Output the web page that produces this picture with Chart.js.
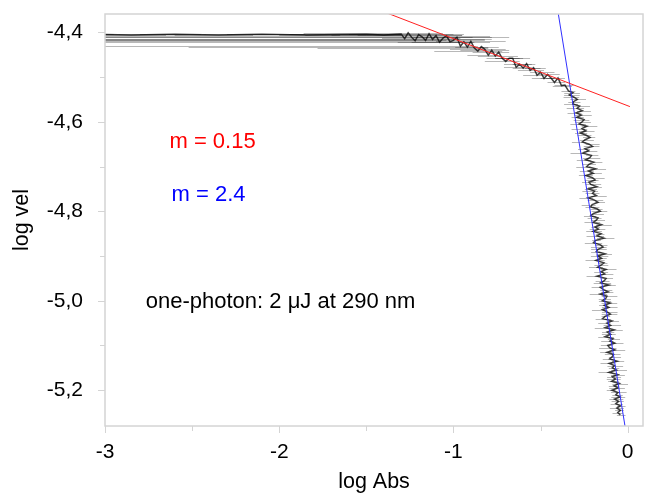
<!DOCTYPE html>
<html lang="en">
<head>
<meta charset="UTF-8" />
<title>log vel vs log Abs</title>
<script src="https://cdn.jsdelivr.net/npm/chart.js"></script>
<style>
  html, body { margin: 0; padding: 0; background: #fff; }
  #wrap { width: 645px; height: 495px; }
</style>
</head>
<body>
<div id="wrap"><canvas id="chart" width="645" height="495"></canvas></div>
<script>
// measured trace: log Abs (x), log vel (y), and the horizontal error on log Abs
const logAbs = [
  // plateau
  -3.10, -2.85, -2.60, -2.35, -2.10, -1.85, -1.65, -1.50, -1.40,
  // bend
  -1.30, -1.28, -1.26, -1.24, -1.22, -1.20, -1.18, -1.16, -1.14, -1.12,
  -1.10, -1.08, -1.06, -1.04, -1.02, -1.00, -0.98, -0.96, -0.94, -0.92,
  -0.90, -0.88, -0.86, -0.84, -0.82, -0.80, -0.78, -0.76, -0.74, -0.72,
  -0.70, -0.68, -0.66, -0.64, -0.62, -0.60, -0.58, -0.56, -0.54, -0.52,
  -0.50, -0.48, -0.46, -0.44, -0.42, -0.40, -0.38, -0.36, -0.34,
  -0.314, -0.335, -0.308, -0.289, -0.311, -0.315, -0.276, -0.290, -0.261, -0.295,
  -0.266, -0.292, -0.250, -0.261, -0.279, -0.234, -0.262, -0.240, -0.272, -0.238,
  // steep part
  -0.216, -0.244, -0.260, -0.221, -0.202, -0.245, -0.224, -0.258, -0.208, -0.217,
  -0.242, -0.195, -0.222, -0.235, -0.184, -0.225, -0.198, -0.240, -0.202, -0.187,
  -0.222, -0.212, -0.178, -0.226, -0.190, -0.202, -0.180, -0.227, -0.190, -0.170,
  -0.204, -0.212, -0.174, -0.157, -0.196, -0.211, -0.170, -0.180, -0.198, -0.151,
  -0.188, -0.168, -0.198, -0.153, -0.176, -0.136, -0.184, -0.196, -0.156, -0.141,
  -0.170, -0.180, -0.130, -0.171, -0.150, -0.182, -0.136, -0.151, -0.172, -0.124,
  -0.152, -0.132, -0.176, -0.124, -0.134, -0.155, -0.108, -0.157, -0.138, -0.112,
  -0.158, -0.119, -0.126, -0.145, -0.100, -0.134, -0.108, -0.145, -0.118, -0.099,
  -0.130, -0.144, -0.090, -0.119, -0.098, -0.129, -0.078, -0.117, -0.098, -0.129,
  -0.084, -0.102, -0.074, -0.114, -0.104, -0.074, -0.118, -0.081, -0.088, -0.103,
  -0.060, -0.106, -0.076, -0.088, -0.064, -0.107, -0.056, -0.088, -0.070, -0.092,
  -0.048, -0.078, -0.056, -0.090, -0.056, -0.068, -0.044, -0.075, -0.052, -0.068,
  -0.042, -0.062, -0.042, -0.057, -0.042
];
const logVel = [
  -4.404, -4.406, -4.404, -4.406, -4.404, -4.406, -4.405, -4.404, -4.406,
  -4.404, -4.414, -4.401, -4.411, -4.419, -4.405, -4.410, -4.418, -4.403, -4.416,
  -4.407, -4.422, -4.413, -4.408, -4.421, -4.418, -4.411, -4.431, -4.421, -4.433,
  -4.420, -4.435, -4.442, -4.432, -4.438, -4.451, -4.440, -4.453, -4.444, -4.458,
  -4.465, -4.458, -4.458, -4.478, -4.471, -4.480, -4.470, -4.485, -4.479, -4.496,
  -4.489, -4.503, -4.494, -4.502, -4.512, -4.502, -4.519, -4.518, -4.531,
  -4.535, -4.540, -4.545, -4.550, -4.555, -4.560, -4.565, -4.570, -4.575, -4.580,
  -4.585, -4.590, -4.595, -4.600, -4.605, -4.610, -4.615, -4.620, -4.625, -4.630,
  -4.635, -4.640, -4.645, -4.650, -4.655, -4.660, -4.665, -4.670, -4.675, -4.680,
  -4.685, -4.690, -4.695, -4.700, -4.705, -4.710, -4.715, -4.720, -4.725, -4.730,
  -4.735, -4.740, -4.745, -4.750, -4.755, -4.760, -4.765, -4.770, -4.775, -4.780,
  -4.785, -4.790, -4.795, -4.800, -4.805, -4.810, -4.815, -4.820, -4.825, -4.830,
  -4.835, -4.840, -4.845, -4.850, -4.855, -4.860, -4.865, -4.870, -4.875, -4.880,
  -4.885, -4.890, -4.895, -4.900, -4.905, -4.910, -4.915, -4.920, -4.925, -4.930,
  -4.935, -4.940, -4.945, -4.950, -4.955, -4.960, -4.965, -4.970, -4.975, -4.980,
  -4.985, -4.990, -4.995, -5.000, -5.005, -5.010, -5.015, -5.020, -5.025, -5.030,
  -5.035, -5.040, -5.045, -5.050, -5.055, -5.060, -5.065, -5.070, -5.075, -5.080,
  -5.085, -5.090, -5.095, -5.100, -5.105, -5.110, -5.115, -5.120, -5.125, -5.130,
  -5.135, -5.140, -5.145, -5.150, -5.155, -5.160, -5.165, -5.170, -5.175, -5.180,
  -5.185, -5.190, -5.195, -5.200, -5.205, -5.210, -5.215, -5.220, -5.225, -5.230,
  -5.235, -5.240, -5.245, -5.250, -5.255
];
const errLeft = [
  0.20, 0.15, 0.20, 0.25, 0.20, 0.15, 0.20, 0.10, 0.15,
  1.85, 1.82, 0.60, 1.86, 1.90, 0.50, 1.92, 1.95, 0.80, 1.98,
  0.40, 2.00, 0.35, 2.05, 0.30, 2.10, 0.25, 2.05, 0.30, 1.60,
  0.20, 0.90, 0.25, 0.15, 0.20, 0.12, 0.18, 0.10, 0.15, 0.09,
  0.12, 0.08, 0.10, 0.07, 0.09, 0.06, 0.08, 0.07, 0.05, 0.08,
  0.06, 0.07, 0.05, 0.06, 0.04, 0.07, 0.05, 0.06, 0.04,
  0.05, 0.03, 0.06, 0.04, 0.03, 0.05, 0.04, 0.06, 0.03, 0.05,
  0.04, 0.03, 0.06, 0.04, 0.05, 0.03, 0.06, 0.04, 0.03, 0.05,
  0.04, 0.03, 0.06, 0.02, 0.05, 0.04, 0.03, 0.07, 0.03, 0.04,
  0.05, 0.02, 0.04, 0.06, 0.03, 0.05, 0.02, 0.04, 0.03, 0.06,
  0.04, 0.03, 0.05, 0.02, 0.07, 0.04, 0.03, 0.05, 0.04, 0.02,
  0.06, 0.03, 0.04, 0.05, 0.02, 0.04, 0.06, 0.03, 0.05, 0.03,
  0.02, 0.05, 0.04, 0.03, 0.06, 0.04, 0.02, 0.05, 0.03, 0.07,
  0.04, 0.03, 0.05, 0.04, 0.02, 0.06, 0.03, 0.04, 0.05, 0.03,
  0.04, 0.02, 0.06, 0.03, 0.05, 0.04, 0.03, 0.05, 0.02, 0.04,
  0.06, 0.03, 0.04, 0.02, 0.05, 0.03, 0.04, 0.06, 0.03, 0.05,
  0.02, 0.04, 0.03, 0.05, 0.04, 0.06, 0.02, 0.03, 0.05, 0.04,
  0.03, 0.05, 0.02, 0.04, 0.06, 0.03, 0.04, 0.05, 0.02, 0.04,
  0.03, 0.05, 0.04, 0.02, 0.03, 0.06, 0.04, 0.03, 0.05, 0.02,
  0.04, 0.03, 0.05, 0.03, 0.04, 0.02, 0.05, 0.03, 0.04, 0.03,
  0.02, 0.04, 0.03, 0.03, 0.02
];
const errRight = [
  0.15, 0.20, 0.15, 0.20, 0.25, 0.20, 0.15, 0.20, 0.10,
  0.30, 0.50, 0.20, 0.35, 0.15, 0.25, 0.40, 0.12, 0.20, 0.30,
  0.15, 0.20, 0.10, 0.25, 0.12, 0.18, 0.30, 0.10, 0.15, 0.12,
  0.20, 0.08, 0.14, 0.10, 0.12, 0.07, 0.10, 0.13, 0.06, 0.10,
  0.08, 0.12, 0.06, 0.09, 0.07, 0.10, 0.05, 0.08, 0.07, 0.05,
  0.08, 0.06, 0.07, 0.05, 0.06, 0.04, 0.06, 0.05, 0.04,
  0.04, 0.06, 0.03, 0.05, 0.04, 0.03, 0.06, 0.04, 0.05, 0.03,
  0.06, 0.04, 0.03, 0.05, 0.04, 0.06, 0.03, 0.05, 0.04, 0.03,
  0.03, 0.05, 0.02, 0.06, 0.04, 0.03, 0.05, 0.02, 0.04, 0.06,
  0.03, 0.05, 0.04, 0.02, 0.06, 0.03, 0.05, 0.04, 0.07, 0.02,
  0.04, 0.06, 0.03, 0.05, 0.02, 0.04, 0.06, 0.03, 0.05, 0.04,
  0.02, 0.05, 0.03, 0.04, 0.06, 0.03, 0.02, 0.05, 0.04, 0.06,
  0.03, 0.04, 0.05, 0.02, 0.04, 0.06, 0.03, 0.05, 0.04, 0.02,
  0.05, 0.03, 0.04, 0.06, 0.03, 0.05, 0.02, 0.04, 0.03, 0.06,
  0.04, 0.05, 0.02, 0.04, 0.03, 0.06, 0.04, 0.02, 0.05, 0.03,
  0.04, 0.06, 0.03, 0.05, 0.04, 0.02, 0.05, 0.03, 0.06, 0.04,
  0.03, 0.05, 0.04, 0.02, 0.06, 0.03, 0.05, 0.04, 0.03, 0.05,
  0.04, 0.02, 0.05, 0.03, 0.04, 0.06, 0.03, 0.04, 0.05, 0.03,
  0.04, 0.03, 0.05, 0.04, 0.06, 0.02, 0.04, 0.05, 0.03, 0.04,
  0.05, 0.03, 0.04, 0.02, 0.05, 0.04, 0.03, 0.05, 0.03, 0.04,
  0.03, 0.04, 0.02, 0.03, 0.03
];

// fitted lines (end points)
const redFitX = [-1.40, 0.013];
const redFitY = [-4.354, -4.566];
const blueFitX = [-0.41, -0.01];
const blueFitY = [-4.330, -5.293];

// axes
const xTicks = [-3, -2, -1, 0];
const xMinorTicks = [-2.5, -1.5, -0.5];
const yTicks = [-4.4, -4.6, -4.8, -5.0, -5.2];
const yMinorTicks = [-4.5, -4.7, -4.9, -5.1];

const FONT = "'Liberation Sans', Arial, sans-serif";

const trace = logAbs.map((x, i) => ({ x: x, y: logVel[i] }));
const redLine = redFitX.map((x, i) => ({ x: x, y: redFitY[i] }));
const blueLine = blueFitX.map((x, i) => ({ x: x, y: blueFitY[i] }));

// horizontal error bars, drawn under the trace
const errorBars = {
  id: "errorBars",
  beforeDatasetsDraw(chart) {
    const { ctx, chartArea: a, scales: { x, y } } = chart;
    ctx.save();
    ctx.beginPath();
    ctx.rect(a.left, a.top, a.right - a.left, a.bottom - a.top);
    ctx.clip();
    ctx.strokeStyle = "rgba(0,0,0,0.28)";
    ctx.lineWidth = 1;
    logAbs.forEach((v, i) => {
      const py = Math.round(y.getPixelForValue(logVel[i])) + 0.5;
      ctx.beginPath();
      ctx.moveTo(x.getPixelForValue(v - errLeft[i]), py);
      ctx.lineTo(x.getPixelForValue(v + errRight[i]), py);
      ctx.stroke();
    });
    ctx.restore();
  },
};

// frame and tick marks
const frame = {
  id: "frame",
  afterDraw(chart) {
    const { ctx, chartArea: a, scales: { x, y } } = chart;
    ctx.save();
    ctx.strokeStyle = "#d4d4d4";
    ctx.lineWidth = 1.5;
    ctx.strokeRect(a.left, a.top, a.right - a.left, a.bottom - a.top);
    ctx.lineWidth = 1;
    ctx.beginPath();
    xTicks.forEach(v => {
      const px = Math.round(x.getPixelForValue(v)) + 0.5;
      ctx.moveTo(px, a.bottom); ctx.lineTo(px, a.bottom + 7);
    });
    xMinorTicks.forEach(v => {
      const px = Math.round(x.getPixelForValue(v)) + 0.5;
      ctx.moveTo(px, a.bottom); ctx.lineTo(px, a.bottom + 5);
    });
    yTicks.forEach(v => {
      const py = Math.round(y.getPixelForValue(v)) + 0.5;
      ctx.moveTo(a.left - 7, py); ctx.lineTo(a.left, py);
    });
    yMinorTicks.forEach(v => {
      const py = Math.round(y.getPixelForValue(v)) + 0.5;
      ctx.moveTo(a.left - 5, py); ctx.lineTo(a.left, py);
    });
    ctx.stroke();
    ctx.restore();
  },
};

// text labels placed in data coordinates
const notes = {
  id: "notes",
  afterDatasetsDraw(chart, args, opts) {
    const { ctx, scales: { x, y } } = chart;
    ctx.save();
    ctx.font = "22px " + FONT;
    ctx.textAlign = "left";
    ctx.textBaseline = "middle";
    opts.items.forEach(n => {
      ctx.fillStyle = n.color;
      ctx.fillText(n.text, x.getPixelForValue(n.x), y.getPixelForValue(n.y));
    });
    ctx.restore();
  },
};

new Chart(document.getElementById("chart"), {
  type: "scatter",
  data: {
    datasets: [
      { data: redLine, showLine: true, borderColor: "#ff2020", borderWidth: 1, pointRadius: 0, order: 0 },
      { data: blueLine, showLine: true, borderColor: "#3030ff", borderWidth: 1, pointRadius: 0, order: 1 },
      { data: trace, showLine: true, borderColor: "rgba(0,0,0,0.75)", borderWidth: 1.5, pointRadius: 0, order: 2 },
    ],
  },
  options: {
    responsive: false,
    animation: false,
    layout: { padding: { left: 0, right: 2, top: 14, bottom: 0 } },
    plugins: {
      legend: { display: false },
      tooltip: { enabled: false },
      notes: {
        items: [
          { text: "m = 0.15", color: "#ff0000", x: -2.63, y: -4.645 },
          { text: "m = 2.4", color: "#0000ff", x: -2.618, y: -4.764 },
          { text: "one-photon: 2 μJ at 290 nm", color: "#000", x: -2.766, y: -5.003 },
        ],
      },
    },
    scales: {
      x: {
        type: "linear",
        min: -3,
        max: 0.088,
        grid: { display: false },
        border: { display: false },
        afterBuildTicks: s => { s.ticks = xTicks.map(v => ({ value: v })); },
        afterFit: s => { s.height = 69; s.paddingLeft = 0; s.paddingRight = 0; },
        ticks: {
          color: "#000",
          font: { family: FONT, size: 21 },
          padding: 6,
          maxRotation: 0,
          autoSkip: false,
          callback: v => String(v),
        },
        title: {
          display: true,
          text: "log Abs",
          color: "#000",
          font: { family: FONT, size: 21.5 },
          padding: { top: 0, bottom: 0 },
        },
      },
      y: {
        type: "linear",
        min: -5.28,
        max: -4.359,
        grid: { display: false },
        border: { display: false },
        afterBuildTicks: s => { s.ticks = yTicks.map(v => ({ value: v })); },
        afterFit: s => { s.width = 105; s.paddingTop = 0; s.paddingBottom = 0; },
        ticks: {
          color: "#000",
          font: { family: FONT, size: 21 },
          padding: 14,
          autoSkip: false,
          callback: v => v.toFixed(1).replace(".", ","),
        },
        title: {
          display: true,
          text: "log vel",
          color: "#000",
          font: { family: FONT, size: 21.5 },
          padding: { top: 9, bottom: 0 },
        },
      },
    },
  },
  plugins: [errorBars, frame, notes],
});
</script>
</body>
</html>
